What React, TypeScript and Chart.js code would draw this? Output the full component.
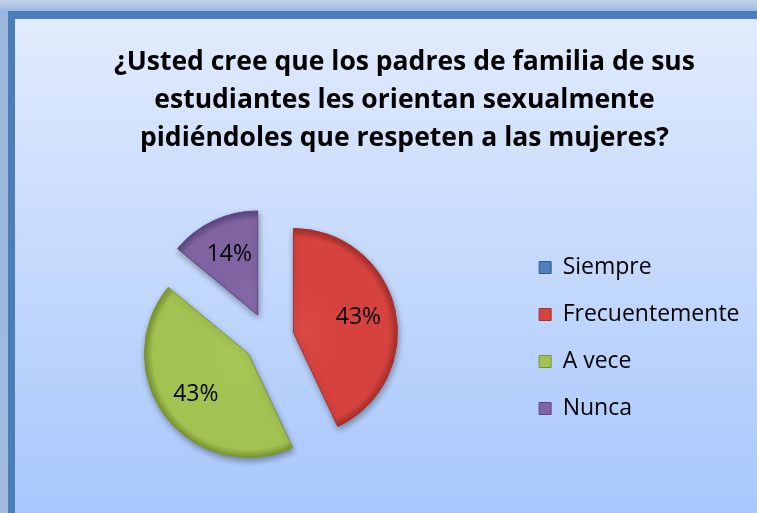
import React, { useEffect, useRef } from 'react';
import { Chart, registerables } from 'chart.js';

Chart.register(...registerables);

// ---- data ----
const categories = ['Siempre', 'Frecuentemente', 'A vece', 'Nunca'];
const percentages = [0, 43, 43, 14];
const titleLines = [
  '¿Usted cree que los padres de familia de sus',
  'estudiantes les orientan sexualmente',
  'pidiéndoles que respeten a las mujeres?',
];

// ---- style ----
const sliceColors = ['#4f81bd', '#d6423d', '#a2c251', '#8064a2'];
const sliceEdges = ['#2f5c92', '#a52f2b', '#7a9633', '#5c4581'];
const sliceLights = ['#5f8cc6', '#d94a45', '#a8c858', '#8669a9'];
const PIE_RADIUS = 104;
const EXPLODE = 25.5;
const LABEL_POS = 0.64;
const FONT = '"Open Sans", "DejaVu Sans", sans-serif';
const TITLE_SIZE = 26.5;

const explodePlugin: any = {
  id: 'explodeSlices',
  afterDatasetsUpdate(chart: any) {
    const meta = chart.getDatasetMeta(0);
    meta.data.forEach((arc: any) => {
      const mid = (arc.startAngle + arc.endAngle) / 2;
      arc.x += Math.cos(mid) * EXPLODE;
      arc.y += Math.sin(mid) * EXPLODE;
    });
  },
  beforeDatasetsDraw(chart: any) {
    const ctx = chart.ctx;
    const meta = chart.getDatasetMeta(0);
    meta.data.forEach((arc: any, i: number) => {
      const g = ctx.createRadialGradient(arc.x, arc.y, 0, arc.x, arc.y, arc.outerRadius);
      g.addColorStop(0, sliceLights[i]);
      g.addColorStop(0.5, sliceColors[i]);
      g.addColorStop(0.92, sliceColors[i]);
      g.addColorStop(1, sliceEdges[i]);
      arc.options = Object.assign({}, arc.options, { backgroundColor: g });
    });
    ctx.save();
    ctx.shadowColor = 'rgba(0,0,0,0.35)';
    ctx.shadowBlur = 6;
    ctx.shadowOffsetX = 1;
    ctx.shadowOffsetY = 3;
  },
  afterDatasetsDraw(chart: any) {
    const ctx = chart.ctx;
    ctx.restore();
    const meta = chart.getDatasetMeta(0);
    ctx.save();
    ctx.font = `23px ${FONT}`;
    ctx.fillStyle = '#000';
    ctx.textAlign = 'center';
    ctx.textBaseline = 'middle';
    meta.data.forEach((arc: any, i: number) => {
      if (!percentages[i]) return;
      const mid = (arc.startAngle + arc.endAngle) / 2;
      const r = arc.outerRadius * LABEL_POS;
      ctx.fillText(`${percentages[i]}%`, arc.x + Math.cos(mid) * r, arc.y + Math.sin(mid) * r);
    });
    ctx.restore();
  },
};

export default function App() {
  const ref = useRef<HTMLCanvasElement | null>(null);

  useEffect(() => {
    if (!ref.current) return;
    const chart = new Chart(ref.current, {
      type: 'pie',
      data: {
        labels: categories,
        datasets: [
          {
            data: percentages,
            backgroundColor: sliceColors,
            borderColor: sliceEdges,
            borderWidth: 1,
            radius: PIE_RADIUS,
            offset: 0,
          },
        ],
      },
      options: {
        responsive: false,
        animation: false,
        events: [],
        layout: { padding: { left: 44.5, right: 7.5, top: 0, bottom: 2 } },
        plugins: {
          tooltip: { enabled: false },
          title: {
            display: true,
            text: titleLines,
            color: '#000',
            font: { family: FONT, size: TITLE_SIZE, weight: 'bold', lineHeight: 38 / TITLE_SIZE },
            padding: { top: 24, bottom: 8 },
          },
          subtitle: {
            display: true,
            text: ' ',
            position: 'right',
            fullSize: false,
            weight: 500,
            padding: 0,
            font: { size: 10, lineHeight: 3.75 },
          },
          legend: {
            display: true,
            position: 'right',
            fullSize: false,
            maxWidth: 300,
            labels: {
              color: '#000',
              font: { family: FONT, size: 23 },
              boxWidth: 12,
              boxHeight: 12,
              padding: 24,
            },
          },
        },
      },
      plugins: [explodePlugin],
    } as any);
    return () => chart.destroy();
  }, []);

  return (
    <div
      style={{
        position: 'fixed',
        left: 0,
        top: 0,
        width: 757,
        height: 513,
        overflow: 'hidden',
        background: 'linear-gradient(#c2d3ea 0px, #9cb7dd 11px, #a1bbdf 100%)',
      }}
    >
      <div style={{ position: 'absolute', left: 8, top: 11, width: 760, height: 520, background: '#4a7ebb' }} />
      <div
        style={{
          position: 'absolute',
          left: 15,
          top: 19,
          width: 742,
          height: 494,
          background: 'linear-gradient(#e1ebfd, #a8c7fc)',
        }}
      >
        <canvas ref={ref} width={742} height={494} style={{ display: 'block', width: 742, height: 494 }} />
      </div>
    </div>
  );
}
